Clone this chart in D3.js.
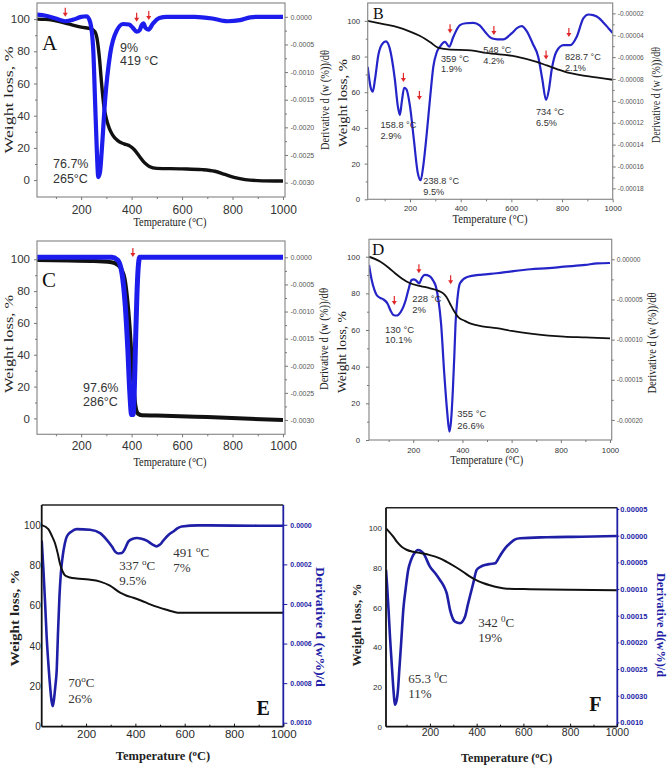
<!DOCTYPE html>
<html><head><meta charset="utf-8">
<script src="https://cdn.jsdelivr.net/npm/d3@7"></script>
<style>body{margin:0;background:#fff}svg{display:block}</style>
</head><body>
<svg id="c" width="669" height="769"></svg>
<script>
// ---------- shared tick data ----------
const xTicks = [200, 400, 600, 800, 1000];
const xMinor = [100, 300, 500, 700, 900];
const yTicks = [0, 20, 40, 60, 80, 100];

// ---------- Panel A ----------
const aWeight = [[25,100],[60,99.8],[100,99],[150,97],[200,95],[240,94],[255,92],[265,86],[273,75],[281,60],[290,46],[300,38],[312,32],[325,28],[345,24.5],[370,22.5],[395,21],[410,19],[430,15],[450,11],[470,8.5],[500,7.3],[600,7],[680,6.5],[730,5.5],[770,3.5],[810,1.5],[850,0.3],[900,-0.3],[1000,-0.6]];
const aDeriv = [[25,0.00004],[60,0.00002],[100,-0.00003],[137,-0.00008],[170,-0.00005],[200,0],[222,0.00001],[236,-0.0001],[248,-0.0006],[255,-0.0015],[262,-0.0024],[268,-0.0029],[275,-0.0028],[282,-0.0024],[295,-0.0015],[315,-0.00067],[341,-0.00025],[367,-0.00013],[390,-0.00014],[405,-0.0002],[420,-0.00027],[432,-0.00024],[440,-0.00015],[447,-0.00012],[455,-0.0002],[467,-0.00023],[485,-0.00012],[510,-0.00002],[540,0],[650,0],[720,-0.00003],[780,-0.00008],[830,-0.00006],[870,-0.00001],[900,0],[1000,0]];
const aArrows = [[137,101.4],[420,98.3],[468,99.4]];
const aNotes = [["9%","419 °C"],["76.7%","265°C"]];

// ---------- Panel B ----------
const bWeight = [[33,100],[100,98],[150,96.5],[200,94],[240,91.5],[280,88],[310,85],[350,84],[440,83.5],[500,82],[620,80],[700,77],[740,75],[780,73],[810,71.5],[900,69],[1000,67]];
const bDeriv = [[33,-0.0000688],[45,-0.000088],[53,-0.0000916],[62,-0.00008],[75,-0.000058],[90,-0.000048],[105,-0.0000455],[120,-0.000052],[140,-0.00008],[152,-0.000105],[160,-0.0001128],[168,-0.0001],[177,-0.000088],[186,-0.0000894],[200,-0.000105],[215,-0.000135],[230,-0.000165],[242,-0.0001726],[252,-0.00016],[266,-0.00013],[280,-0.0000955],[292,-0.0000688],[305,-0.000056],[318,-0.0000505],[338,-0.000046],[355,-0.0000505],[370,-0.000042],[397,-0.0000307],[420,-0.000029],[450,-0.0000286],[475,-0.000031],[500,-0.000038],[522,-0.0000428],[545,-0.0000437],[568,-0.0000437],[601,-0.0000383],[625,-0.000033],[641,-0.0000316],[660,-0.000036],[685,-0.000048],[706,-0.0000596],[722,-0.00008],[737,-0.0000992],[748,-0.00009],[759,-0.0000718],[779,-0.0000545],[806,-0.000049],[833,-0.000049],[858,-0.0000413],[884,-0.0000246],[905,-0.000021],[923,-0.0000216],[945,-0.000024],[962,-0.000028],[985,-0.000034],[1000,-0.000038]];
const bArrows = [[174,65.8],[237,55.6],[358,93],[531,92],[737,78.4],[827,91]];
const bNotes = [["158.8 °C","2.9%"],["238.8 °C","9.5%"],["359 °C","1.9%"],["548 °C","4.2%"],["734 °C","6.5%"],["828.7 °C","2.1%"]];

// ---------- Panel C ----------
const cWeight = [[25,99.5],[150,99.2],[250,99],[320,98.2],[345,96.5],[360,93.5],[372,88],[382,76],[392,58],[400,38],[408,20],[415,8],[425,3],[440,2],[500,1.8],[700,0.8],[1000,-1]];
const cDeriv = [[25,0],[320,0],[345,-0.00005],[362,-0.0003],[375,-0.0009],[385,-0.0017],[393,-0.0025],[400,-0.0029],[406,-0.0029],[411,-0.0024],[416,-0.0015],[421,-0.0007],[426,-0.0002],[432,0],[1000,0]];
const cArrows = [[405,101.4]];
const cNotes = [["97.6%","286°C"]];

// ---------- Panel D ----------
const dWeight = [[20,100],[65,97.4],[100,94],[126,91],[155,88],[187,85.5],[230,84],[269,82.7],[300,81.5],[322,80],[335,78],[349,74.5],[365,70.5],[383,67],[410,65],[431,63.6],[480,62],[539,61],[600,59.5],[677,58],[750,57],[813,56.4],[900,56],[1000,55.5]];
const dDeriv = [[20,-0.000007],[31,-0.0000258],[42,-0.000038],[51,-0.0000444],[65,-0.000048],[78,-0.0000498],[95,-0.000055],[108,-0.000064],[119,-0.0000693],[133,-0.00007],[148,-0.000066],[160,-0.000059],[170,-0.00005],[180,-0.0000382],[193,-0.0000258],[202,-0.000025],[211,-0.0000262],[224,-0.0000299],[235,-0.000023],[247,-0.0000195],[267,-0.000021],[282,-0.000027],[292,-0.000034],[303,-0.000052],[313,-0.0000797],[326,-0.000142],[338,-0.00019],[347,-0.0002146],[354,-0.0002],[361,-0.000163],[367,-0.00012],[372,-0.0000797],[380,-0.000048],[390,-0.0000299],[417,-0.0000224],[480,-0.000019],[539,-0.0000174],[600,-0.000015],[677,-0.0000124],[750,-0.000011],[813,-0.0000092],[900,-0.000007],[948,-0.000005],[1000,-0.0000046]];
const dArrows = [[123,73.6],[223,91],[352,85]];
const dNotes = [["130 °C","10.1%"],["228 °C","2%"],["355 °C","26.6%"]];

// ---------- Panel E ----------
const eWeight = [[20,100],[47,98],[60,95],[74,91],[85,86],[94,81],[105,77],[115,75],[135,74],[162,73.5],[210,73],[257,72],[297,70],[338,66.5],[365,65],[392,64],[425,62.5],[460,60.7],[495,59.2],[527,58],[555,57],[581,56.5],[1000,56.5]];
const eDeriv = [[20,-0.00008],[27,-0.000227],[34,-0.0004],[40,-0.000563],[47,-0.0007],[54,-0.000815],[60,-0.00089],[65,-0.000916],[70,-0.00088],[75,-0.00082],[81,-0.000731],[86,-0.00055],[92,-0.000362],[98,-0.00024],[105,-0.00016],[113,-0.0001],[122,-0.000059],[140,-0.000035],[162,-0.0000218],[216,-0.000025],[257,-0.000042],[284,-0.000076],[305,-0.00011],[318,-0.000135],[332,-0.000145],[345,-0.000143],[358,-0.00012],[372,-0.000084],[390,-0.00007],[405,-0.000067],[425,-0.00007],[446,-0.00008],[470,-0.0001],[486,-0.000109],[500,-0.0001],[513,-0.00008],[535,-0.00005],[554,-0.0000336],[570,-0.000018],[588,-0.0000084],[655,-0.000003],[800,-0.000004],[1000,-0.000005]];
const eNotes = [["70","o","C","26%"],["337 ","o","C","9.5%"],["491 ","o","C","7%"]];

// ---------- Panel F ----------
const fWeight = [[12,100],[43,95.8],[60,93],[79,90.7],[100,89.2],[129,88.2],[160,87.5],[200,86.5],[240,85],[272,83.1],[310,80.5],[343,78],[370,75.8],[400,73.8],[430,72.3],[457,71.3],[490,70.3],[529,69.6],[629,69.3],[800,69],[1000,68.8]];
const fDeriv = [[12,-0.0000642],[17,-0.0000955],[23,-0.00014],[29,-0.000189],[35,-0.00023],[40,-0.000264],[45,-0.000295],[50,-0.000317],[57,-0.00031],[63,-0.00029],[69,-0.000251],[77,-0.0002],[86,-0.000139],[96,-0.0001],[107,-0.0000642],[118,-0.000047],[129,-0.0000361],[150,-0.0000268],[172,-0.000033],[200,-0.000058],[222,-0.00007],[243,-0.000083],[260,-0.000095],[272,-0.000108],[286,-0.000139],[307,-0.000161],[329,-0.000164],[350,-0.000152],[362,-0.00013],[371,-0.000114],[385,-0.00009],[400,-0.0000642],[418,-0.000058],[436,-0.0000549],[458,-0.000053],[479,-0.0000517],[493,-0.000043],[507,-0.000033],[525,-0.000022],[543,-0.0000142],[565,-0.000007],[586,-0.0000049],[700,-0.000003],[850,-0.000002],[1000,-0.0000006]];
const fNotes = [["65.3 ","0","C","11%"],["342 ","0","C","19%"]];

// ---------- right-axis ticks ----------
const acDerivTicks = [0,-0.0005,-0.001,-0.0015,-0.002,-0.0025,-0.003];
const acDerivLabels = ["0.0000","-0.0005","-0.0010","-0.0015","-0.0020","-0.0025","-0.0030"];
const bDerivTicks = [-0.00002,-0.00004,-0.00006,-0.00008,-0.0001,-0.00012,-0.00014,-0.00016,-0.00018];
const bDerivLabels = ["-0.00002","-0.00004","-0.00006","-0.00008","-0.00010","-0.00012","-0.00014","-0.00016","-0.00018"];
const dDerivTicks = [0,-0.00005,-0.0001,-0.00015,-0.0002];
const dDerivLabels = ["0.00000","-0.00005","-0.00010","-0.00015","-0.00020"];
const eDerivTicks = [0,-0.0002,-0.0004,-0.0006,-0.0008,-0.001];
const eDerivLabels = ["0.0000","0.0002","0.0004","0.0006","0.0008","0.0010"];
const fDerivTicks = [0.00005,0,-0.00005,-0.0001,-0.00015,-0.0002,-0.00025,-0.0003,-0.00035];
const fDerivLabels = ["0.00005","0.00000","0.00005","0.00010","0.00015","0.00020","0.00025","0.00030","0.0010"];

const yTitle = "Weight loss, %";
const xTitle = "Temperature (°C)";
const rTitle = "Derivative d (w (%))/dθ";

const SANS = "'Liberation Sans', Arial, sans-serif";
const SERIF = "'Liberation Serif', 'Times New Roman', serif";

const svg = d3.select("#c");

const panels = [
 {id:"A", box:{l:37,t:3,r:285,b:197}, xDom:[25,1008], yDom:[-10.5,110], rDom:[-0.00326,0.00025],
  weight:aWeight, deriv:aDeriv, rTicks:acDerivTicks, rLabels:acDerivLabels, rMinor:true,
  blue:"#1c1ced", wBlack:3.4, wBlue:4.2, blueTop:true, frame:"#8c8c8c", frameW:1.2,
  fontL:11.5, fontB:12, fontR:7, padL:4, padB:5, padR:2.5, tick:3,
  yT:{x:10,y:100,len:107,fs:12.5}, xT:{x:170,y:226,len:73,fs:12.5}, rT:{x:326,y:100,len:100,fs:12.5,rot:-90},
  letter:{t:"A",x:42,y:50,fs:21}, arrows:aArrows,
  notes:aNotes, notePos:[[120,51.5,65],[53,168,183]], noteFs:12.5, noteFont:SANS},
 {id:"B", box:{l:367.7,t:3,r:612.7,b:199.3}, xDom:[33,1000], yDom:[0,110], rDom:[-0.000190,-0.0000105],
  weight:bWeight, deriv:bDeriv, rTicks:bDerivTicks, rLabels:bDerivLabels, rMinor:true,
  blue:"#2424c8", wBlack:1.8, wBlue:2.2, blueTop:false, frame:"#8c8c8c", frameW:1.2,
  fontL:7.8, fontB:7.8, fontR:6.6, padL:4.5, padB:3, padR:2, tick:3,
  yT:{x:344,y:103,len:88,fs:12}, xT:{x:490,y:223,len:75,fs:12}, rT:{x:657,y:95,len:96,fs:12,rot:-90},
  letter:{t:"B",x:373,y:18.5,fs:16}, arrows:bArrows,
  notes:bNotes, notePos:[[380.5,128.3,139.3],[423.3,184,195],[441,61.7,72],[483.3,53.3,64.3],[536,115,126],[565,60,71]], noteFs:9.2, noteFont:SANS},
 {id:"C", box:{l:37,t:241,r:285,b:434.3}, xDom:[25,1008], yDom:[-10,111.5], rDom:[-0.003264,0.000301],
  weight:cWeight, deriv:cDeriv, rTicks:acDerivTicks, rLabels:acDerivLabels, rMinor:true,
  blue:"#1c1ced", wBlack:4, wBlue:5, blueTop:true, frame:"#8c8c8c", frameW:1.2,
  fontL:11.5, fontB:12, fontR:7, padL:4, padB:4, padR:2.5, tick:3,
  yT:{x:10,y:344,len:98,fs:12.5}, xT:{x:170,y:466,len:73,fs:12.5}, rT:{x:325,y:339,len:102,fs:12.5,rot:-90},
  letter:{t:"C",x:42,y:286.7,fs:21}, arrows:cArrows,
  notes:cNotes, notePos:[[83,391.7,406]], noteFs:12.5, noteFont:SANS},
 {id:"D", box:{l:369,t:239.3,r:611.7,b:440}, xDom:[20,1007], yDom:[0,109.5], rDom:[-0.000225,0.0000249],
  weight:dWeight, deriv:dDeriv, rTicks:dDerivTicks, rLabels:dDerivLabels, rMinor:true,
  blue:"#2424c8", wBlack:1.8, wBlue:2.2, blueTop:false, frame:"#8c8c8c", frameW:1.2,
  fontL:7.8, fontB:7.8, fontR:6.6, padL:6, padB:4, padR:2, tick:3,
  yT:{x:343,y:352,len:82,fs:12}, xT:{x:486.7,y:464,len:73,fs:12}, rT:{x:653.5,y:343,len:101,fs:12,rot:-90},
  letter:{t:"D",x:372,y:255,fs:17}, arrows:dArrows,
  notes:dNotes, notePos:[[385,332.7,342.7],[412.3,302.3,312.7],[457.3,417.3,429]], noteFs:9.5, noteFont:SANS},
 {id:"E", box:{l:41.7,t:505,r:283.3,b:726.7}, xDom:[20,1000], yDom:[0,110], rDom:[-0.00102,0.0001],
  weight:eWeight, deriv:eDeriv, rTicks:eDerivTicks, rLabels:eDerivLabels, rMinor:false,
  blue:"#1e1ea6", wBlack:2, wBlue:2.6, blueTop:false, frame:"#111", frameW:1.8, styleEF:true,
  fontL:10, fontB:11.5, fontR:7, padL:1, padB:3, padR:3, tick:4,
  yT:{x:16,y:618,len:97,fs:13}, xT:{x:163,y:760,len:null,fs:12.5}, rT:{x:319,y:627,len:120,fs:13.5,rot:90},
  letter:{t:"E",x:256.5,y:715,fs:20}, arrows:[],
  notes:eNotes, notePos:[[68.3,686.7,703.3],[119.3,570,585],[173.3,557.3,571.7]], noteFs:13, noteFont:SERIF},
 {id:"F", box:{l:386,t:507.7,r:617.3,b:726.7}, xDom:[12,1002], yDom:[0,110.4], rDom:[-0.000358,0.0000524],
  weight:fWeight, deriv:fDeriv, rTicks:fDerivTicks, rLabels:fDerivLabels, rMinor:false,
  blue:"#1e1ea6", wBlack:2, wBlue:2.6, blueTop:false, frame:"#111", frameW:1.8, styleEF:true,
  fontL:8, fontB:10.5, fontR:7.5, padL:4, padB:2, padR:1, tick:2,
  yT:{x:358,y:625,len:83,fs:13}, xT:{x:506.7,y:762,len:null,fs:12.1}, rT:{x:660,y:625,len:104,fs:13.5,rot:90},
  letter:{t:"F",x:589.3,y:710.7,fs:20}, arrows:[],
  notes:fNotes, notePos:[[408.3,683.3,698.3],[478.3,626.7,641.7]], noteFs:13, noteFont:SERIF}
];

function styleAxis(g, fs, color, lineColor, lw) {
  g.select(".domain").remove();
  g.selectAll("text").attr("font-family", SANS).attr("font-size", fs).attr("fill", color);
  g.selectAll(".tick line").attr("stroke", lineColor).attr("stroke-width", lw);
}

panels.forEach(p => {
  const b = p.box;
  const g = svg.append("g").attr("class", "panel-" + p.id);
  const x = d3.scaleLinear().domain(p.xDom).range([b.l, b.r]);
  const y = d3.scaleLinear().domain(p.yDom).range([b.b, b.t]);
  const yr = d3.scaleLinear().domain(p.rDom).range([b.b, b.t]);

  const clipId = "clip" + p.id;
  svg.append("clipPath").attr("id", clipId).append("rect")
    .attr("x", b.l).attr("y", b.t).attr("width", b.r - b.l).attr("height", b.b - b.t);

  const lineW = d3.line().x(d => x(d[0])).y(d => y(d[1])).curve(d3.curveMonotoneX);
  const lineD = d3.line().x(d => x(d[0])).y(d => yr(d[1])).curve(d3.curveMonotoneX);

  const curves = g.append("g").attr("clip-path", `url(#${clipId})`);
  const drawBlack = () => curves.append("path").datum(p.weight).attr("d", lineW)
      .attr("fill", "none").attr("stroke", "#111").attr("stroke-width", p.wBlack).attr("stroke-linejoin", "round");
  const drawBlue = () => curves.append("path").datum(p.deriv).attr("d", lineD)
      .attr("fill", "none").attr("stroke", p.blue).attr("stroke-width", p.wBlue).attr("stroke-linejoin", "round");
  if (p.blueTop) { drawBlack(); drawBlue(); } else { drawBlue(); drawBlack(); }

  // frame
  if (p.styleEF) {
    g.append("line").attr("x1", b.l).attr("x2", b.r).attr("y1", b.t).attr("y2", b.t).attr("stroke", "#222").attr("stroke-width", 1.4);
    g.append("line").attr("x1", b.l).attr("x2", b.l).attr("y1", b.t).attr("y2", b.b).attr("stroke", "#111").attr("stroke-width", p.frameW);
    g.append("line").attr("x1", b.l).attr("x2", b.r).attr("y1", b.b).attr("y2", b.b).attr("stroke", "#111").attr("stroke-width", p.frameW);
    g.append("line").attr("x1", b.r).attr("x2", b.r).attr("y1", b.t).attr("y2", b.b).attr("stroke", p.blue).attr("stroke-width", p.frameW);
  } else {
    g.append("rect").attr("x", b.l).attr("y", b.t).attr("width", b.r - b.l).attr("height", b.b - b.t)
      .attr("fill", "none").attr("stroke", p.frame).attr("stroke-width", p.frameW);
  }

  const tickCol = p.styleEF ? "#111" : "#777";
  const txtCol = p.styleEF ? "#2a2a2a" : "#333";
  const inward = p.styleEF ? -3 : p.tick;

  // bottom axis
  const ax = g.append("g").attr("transform", `translate(0,${b.b})`)
    .call(d3.axisBottom(x).tickValues(xTicks).tickSize(inward).tickPadding(p.padB).tickFormat(d3.format("d")));
  styleAxis(ax, p.fontB, txtCol, tickCol, 1);
  const axm = g.append("g").attr("transform", `translate(0,${b.b})`)
    .call(d3.axisBottom(x).tickValues(xMinor).tickSize(p.styleEF ? -2 : 2).tickFormat(""));
  styleAxis(axm, p.fontB, txtCol, tickCol, 1);

  // left axis
  const ay = g.append("g").attr("transform", `translate(${b.l},0)`)
    .call(d3.axisLeft(y).tickValues(yTicks).tickSize(p.styleEF ? 0 : p.tick).tickPadding(p.padL).tickFormat(d3.format("d")));
  styleAxis(ay, p.fontL, txtCol, tickCol, 1);
  if (!p.styleEF) {
    const aym = g.append("g").attr("transform", `translate(${b.l},0)`)
      .call(d3.axisLeft(y).tickValues(d3.range(10, 110, 20)).tickSize(2).tickFormat(""));
    styleAxis(aym, p.fontL, txtCol, tickCol, 1);
  }

  // right axis
  const rCol = p.styleEF ? p.blue : "#555";
  const ar = g.append("g").attr("transform", `translate(${b.r},0)`)
    .call(d3.axisRight(yr).tickValues(p.rTicks).tickSize(p.tick).tickPadding(p.padR)
      .tickFormat((d, i) => p.rLabels[i]));
  styleAxis(ar, p.fontR, rCol, p.styleEF ? p.blue : "#777", 1);
  if (p.styleEF) ar.selectAll("text").attr("font-weight", "bold");
  if (p.rMinor) {
    const mids = p.rTicks.slice(0, -1).map((v, i) => (v + p.rTicks[i + 1]) / 2);
    const arm = g.append("g").attr("transform", `translate(${b.r},0)`)
      .call(d3.axisRight(yr).tickValues(mids).tickSize(2).tickFormat(""));
    styleAxis(arm, p.fontR, rCol, "#777", 1);
  }

  // titles
  const bold = p.styleEF ? "bold" : "normal";
  g.append("text").attr("transform", `translate(${p.yT.x},${p.yT.y}) rotate(-90)`)
    .attr("text-anchor", "middle").attr("dominant-baseline", "middle")
    .attr("font-family", SERIF).attr("font-size", p.yT.fs).attr("font-weight", bold).attr("fill", "#222")
    .attr("textLength", p.yT.len).attr("lengthAdjust", "spacingAndGlyphs").text(yTitle);

  const xt = g.append("text").attr("x", p.xT.x).attr("y", p.xT.y).attr("text-anchor", "middle")
    .attr("font-family", SERIF).attr("font-size", p.xT.fs).attr("font-weight", bold).attr("fill", "#222");
  if (p.xT.len) xt.attr("textLength", p.xT.len).attr("lengthAdjust", "spacingAndGlyphs");
  if (p.styleEF) {
    xt.append("tspan").text("Temperature (");
    xt.append("tspan").attr("dy", -4).attr("font-size", p.xT.fs * 0.7).text("o");
    xt.append("tspan").attr("dy", 4).text("C)");
  } else {
    xt.text(xTitle);
  }

  g.append("text").attr("transform", `translate(${p.rT.x},${p.rT.y}) rotate(${p.rT.rot})`)
    .attr("text-anchor", "middle").attr("dominant-baseline", "middle")
    .attr("font-family", SERIF).attr("font-size", p.rT.fs).attr("font-weight", bold)
    .attr("fill", p.styleEF ? p.blue : "#222")
    .attr("textLength", p.rT.len).attr("lengthAdjust", "spacingAndGlyphs")
    .text(p.id === "E" ? "Derivative d (w%)/d" : p.id === "F" ? "Derivative d(w%)/d" : rTitle);

  // panel letter
  g.append("text").attr("x", p.letter.x).attr("y", p.letter.y)
    .attr("font-family", SERIF).attr("font-size", p.letter.fs).attr("font-weight", bold)
    .attr("fill", "#111").text(p.letter.t);

  // arrows
  p.arrows.forEach(([t, v]) => {
    const ax0 = x(t), tipY = y(v);
    g.append("line").attr("x1", ax0).attr("x2", ax0).attr("y1", tipY - 9).attr("y2", tipY - 3)
      .attr("stroke", "#e0282a").attr("stroke-width", 1.2);
    g.append("path").attr("d", `M${ax0 - 2.5},${tipY - 4} L${ax0 + 2.5},${tipY - 4} L${ax0},${tipY} Z`)
      .attr("fill", "#e0282a");
  });

  // annotations
  p.notes.forEach((n, i) => {
    const [nx, ny1, ny2] = p.notePos[i];
    if (n.length === 2) {
      g.append("text").attr("x", nx).attr("y", ny1).attr("font-family", p.noteFont)
        .attr("font-size", p.noteFs).attr("fill", "#333").text(n[0]);
      g.append("text").attr("x", nx).attr("y", ny2).attr("font-family", p.noteFont)
        .attr("font-size", p.noteFs).attr("fill", "#333").text(n[1]);
    } else {
      const t1 = g.append("text").attr("x", nx).attr("y", ny1).attr("font-family", p.noteFont)
        .attr("font-size", p.noteFs).attr("fill", "#333");
      t1.append("tspan").text(n[0]);
      t1.append("tspan").attr("dy", -5).attr("font-size", p.noteFs * 0.7).text(n[1]);
      t1.append("tspan").attr("dy", 5).text(n[2]);
      g.append("text").attr("x", nx).attr("y", ny2).attr("font-family", p.noteFont)
        .attr("font-size", p.noteFs).attr("fill", "#333").text(n[3]);
    }
  });
});
</script>
</body></html>
